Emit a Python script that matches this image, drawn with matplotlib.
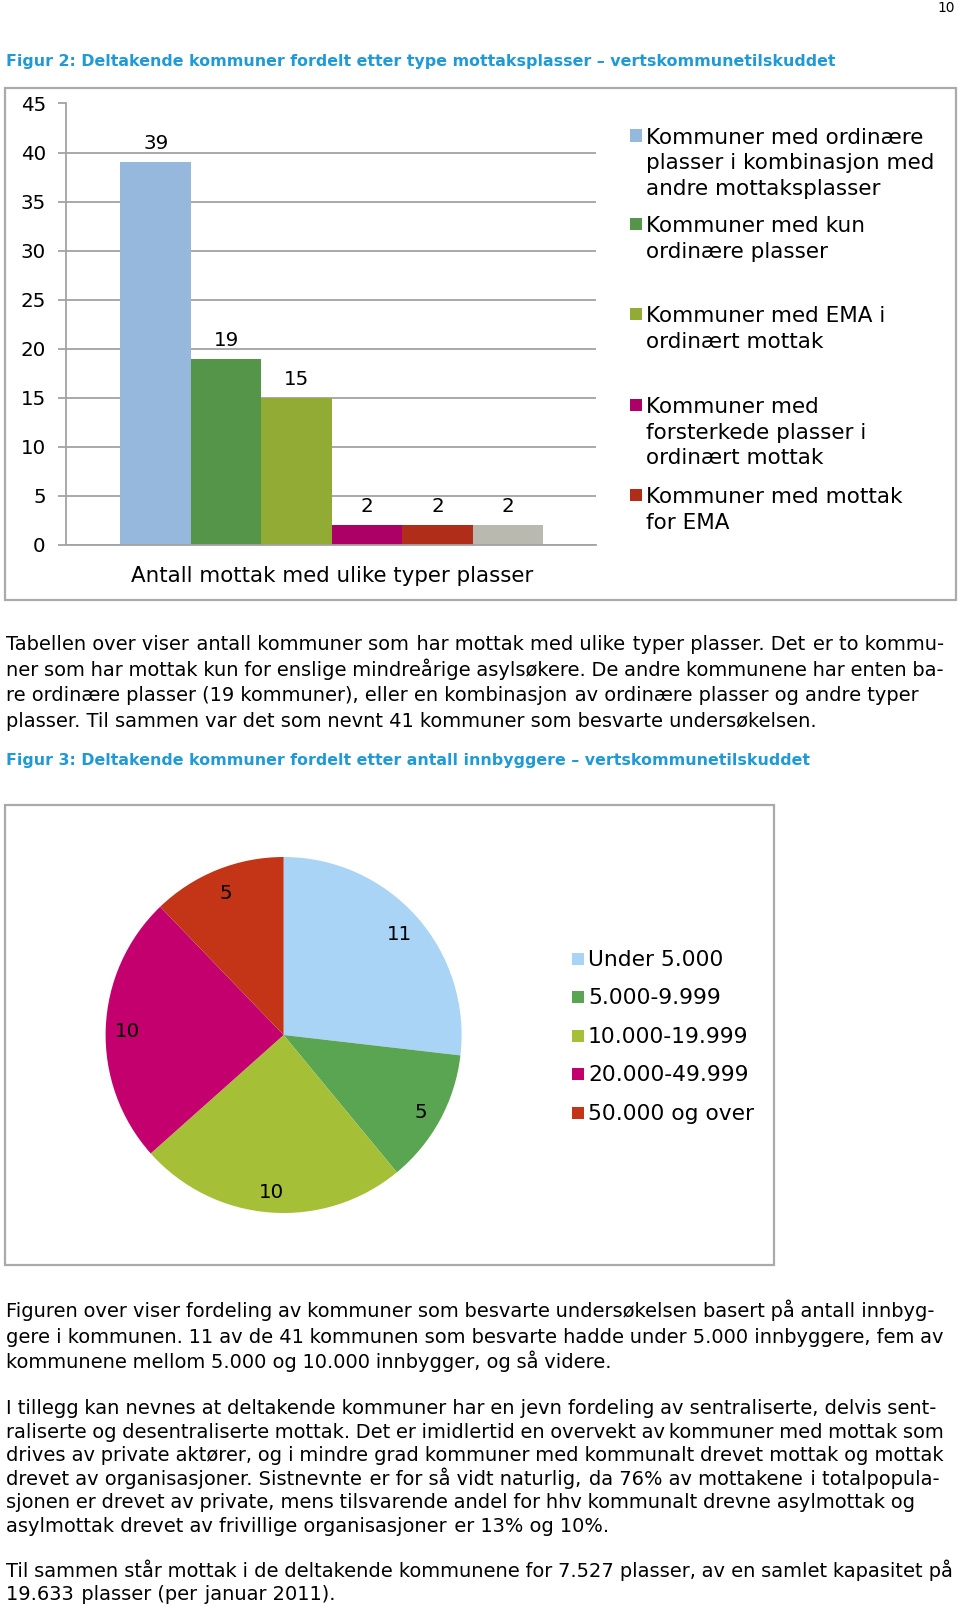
import matplotlib
matplotlib.use("Agg")
import matplotlib.pyplot as plt
import matplotlib.patches as mpatches
from matplotlib import font_manager
from matplotlib.ft2font import FT2Font

# ---------------- data ----------------
page_number = "10"
title_fig2 = "Figur 2: Deltakende kommuner fordelt etter type mottaksplasser \u2013 vertskommunetilskuddet"
title_fig3 = "Figur 3: Deltakende kommuner fordelt etter antall innbyggere \u2013 vertskommunetilskuddet"

bar_category = "Antall mottak med ulike typer plasser"
bar_series = [
    "Kommuner med ordinære\nplasser i kombinasjon med\nandre mottaksplasser",
    "Kommuner med kun\nordinære plasser",
    "Kommuner med EMA i\nordinært mottak",
    "Kommuner med\nforsterkede plasser i\nordinært mottak",
    "Kommuner med mottak\nfor EMA",
    "",
]
bar_values = [39, 19, 15, 2, 2, 2]
bar_colors = ["#95b8dc", "#55954a", "#91ab35", "#ad0066", "#b02d19", "#b9b9b0"]
bar_yticks = [0, 5, 10, 15, 20, 25, 30, 35, 40, 45]

pie_labels = ["Under 5.000", "5.000-9.999", "10.000-19.999", "20.000-49.999", "50.000 og over"]
pie_values = [11, 5, 10, 10, 5]
pie_colors = ["#a9d4f5", "#5aa552", "#a5bf37", "#c4006f", "#c43517"]

para1 = [
    "Tabellen over viser antall kommuner som har mottak med ulike typer plasser. Det er to kommu-",
    "ner som har mottak kun for enslige mindreårige asylsøkere. De andre kommunene har enten ba-",
    "re ordinære plasser (19 kommuner), eller en kombinasjon av ordinære plasser og andre typer",
    "plasser. Til sammen var det som nevnt 41 kommuner som besvarte undersøkelsen.",
]
para2 = [
    "Figuren over viser fordeling av kommuner som besvarte undersøkelsen basert på antall innbyg-",
    "gere i kommunen. 11 av de 41 kommunen som besvarte hadde under 5.000 innbyggere, fem av",
    "kommunene mellom 5.000 og 10.000 innbygger, og så videre.",
]
para3 = [
    "I tillegg kan nevnes at deltakende kommuner har en jevn fordeling av sentraliserte, delvis sent-",
    "raliserte og desentraliserte mottak. Det er imidlertid en overvekt av kommuner med mottak som",
    "drives av private aktører, og i mindre grad kommuner med kommunalt drevet mottak og mottak",
    "drevet av organisasjoner. Sistnevnte er for så vidt naturlig, da 76% av mottakene i totalpopula-",
    "sjonen er drevet av private, mens tilsvarende andel for hhv kommunalt drevne asylmottak og",
    "asylmottak drevet av frivillige organisasjoner er 13% og 10%.",
]
para4 = [
    "Til sammen står mottak i de deltakende kommunene for 7.527 plasser, av en samlet kapasitet på",
    "19.633 plasser (per januar 2011).",
]

# ---------------- layout (pixels) ----------------
W, H = 960, 1607
fig = plt.figure(figsize=(W / 100, H / 100), dpi=100)
fig.patch.set_facecolor("white")
renderer = fig.canvas.get_renderer()
TITLE_COLOR = "#1f9ad6"
GRID = "#a3a3a3"
FRAME = "#aaaaaa"
NUM_SIZE = 14.3


def fx(x):
    return x / W


def fy(y):
    return 1 - y / H


def measure(s, size, weight="normal"):
    t = fig.text(0, 0, s, fontsize=size, weight=weight)
    w = t.get_window_extent(renderer).width
    t.remove()
    return w


def fit(s, target, weight="normal"):
    return 10 * target / measure(s, 10, weight)


def frame(x0, y0, x1, y1):
    fig.add_artist(mpatches.Rectangle((fx(x0), fy(y1)), (x1 - x0) / W, (y1 - y0) / H,
                                      transform=fig.transFigure, fill=False,
                                      edgecolor=FRAME, linewidth=1.6))


def square(x, y_top, size, color):
    fig.add_artist(mpatches.Rectangle((fx(x), fy(y_top + size)), size / W, size / H,
                                      transform=fig.transFigure, facecolor=color,
                                      edgecolor="none"))


# page number
fig.text(fx(955), fy(12), page_number, fontsize=9.9, ha="right", va="baseline")

# titles
tsize = fit(title_fig2, 830, "bold")
fig.text(fx(6), fy(66), title_fig2, fontsize=tsize, weight="bold", color=TITLE_COLOR, va="baseline")
fig.text(fx(6), fy(765), title_fig3, fontsize=tsize, weight="bold", color=TITLE_COLOR, va="baseline")

# ---------------- bar chart ----------------
frame(5, 88, 956, 600)
ax_l, ax_r, ax_t, ax_b = 66, 596, 103.5, 545
ax = fig.add_axes([fx(ax_l), fy(ax_b), (ax_r - ax_l) / W, (ax_b - ax_t) / H])
n = len(bar_values)
offsets = [i - (n - 1) / 2 for i in range(n)]
for off, v, c, lab in zip(offsets, bar_values, bar_colors, bar_series):
    cont = ax.bar(off, v, width=1.0, color=c, label=lab, zorder=2)
    ax.bar_label(cont, padding=6.5, fontsize=NUM_SIZE, color="black")
ax.set_xlim(-3.773, 3.746)
ax.set_ylim(0, 45)
ax.set_yticks(bar_yticks)
ax.set_xticks([0])
lab_size = fit(bar_category, 403)
ax.set_xticklabels([bar_category], fontsize=lab_size)
ax.tick_params(axis="x", length=0, pad=15)
ax.tick_params(axis="y", length=6, width=1.3, color=GRID, labelsize=NUM_SIZE, pad=8.5)
ax.yaxis.grid(True, color=GRID, linewidth=1.3)
ax.set_axisbelow(True)
for s in ["top", "right"]:
    ax.spines[s].set_visible(False)
for s in ["left", "bottom"]:
    ax.spines[s].set_color(GRID)
    ax.spines[s].set_linewidth(1.3)
ax.set_facecolor("none")

# bar legend (first five series)
leg_size = fit("Kommuner med ordinære", 276.6)
first_base = [143.5, 232, 322, 413, 503]
for lab, c, b0 in zip(bar_series[:5], bar_colors[:5], first_base):
    square(630, b0 - 14, 12, c)
    for k, line in enumerate(lab.split("\n")):
        fig.text(fx(646), fy(b0 + 25.7 * k), line, fontsize=leg_size, va="baseline")

# ---------------- body text ----------------
paras = [
    (para1, [650, 675.7, 701.4, 727], [943.6, 943.6, 919, 816.5]),
    (para2, [1317, 1342.7, 1368.4], [934.4, 943.6, 611.6]),
    (para3, [1414, 1437.6, 1461.2, 1484.8, 1508.4, 1532], [936.4, 943.6, 943.6, 939.5, 915, 609.6]),
    (para4, [1577, 1600], [952.8, 336]),
]
X0 = 6
nat = 0
tgt = 0
for lines, _, rights in paras:
    for line, r in zip(lines, rights):
        nat += measure(line, 10)
        tgt += r - X0
body = 10 * tgt / nat

# spacing characters available in the font, to justify whole lines in one text
ft = FT2Font(font_manager.findfont("DejaVu Sans"))
space_chars = [ch for ch in [" ", "\u2009", "\u200a"] if ft.get_char_index(ord(ch)) != 0]
base_w = measure("xx", body)
cands = {}
for a in range(0, 3):
    for b in range(0, 3):
        for c in range(0, 4):
            counts = [a, b, c][:len(space_chars)]
            if sum(counts) == 0:
                continue
            s = "".join(ch * k for ch, k in zip(space_chars, counts))
            if s in cands:
                continue
            cands[s] = measure("x" + s + "x", body) - base_w
cand_list = sorted((w, s) for s, w in cands.items())


def justify(text, target):
    words = text.split(" ")
    nG = len(words) - 1
    if nG == 0:
        return text
    g = (target - sum(measure(w, body) for w in words)) / nG
    best, best_err = text, abs(measure(text, body) - target)
    for _ in range(5):
        cum = 0.0
        parts = [words[0]]
        for k in range(1, nG + 1):
            w, s = min(cand_list,
                       key=lambda cw: abs(cum + cw[0] - k * g) + 0.6 * abs(cw[0] - g))
            cum += w
            parts.append(s)
            parts.append(words[k])
        line = "".join(parts)
        actual = measure(line, body)
        if abs(actual - target) < best_err:
            best, best_err = line, abs(actual - target)
        g += (target - actual) / nG
    return best


for lines, ys, rights in paras:
    for line, y, r in zip(lines, ys, rights):
        fig.text(fx(X0), fy(round(y)), justify(line, r - X0), fontsize=body,
                 va="baseline", ha="left")

# ---------------- pie chart ----------------
frame(5, 805, 773.5, 1264.5)
cx, cy, R = 283.6, 1035, 178
pax = fig.add_axes([fx(cx - R), fy(cy + R), 2 * R / W, 2 * R / H])
total = sum(pie_values)
wedges, texts, autotexts = pax.pie(
    pie_values, colors=pie_colors, startangle=90, counterclock=False,
    autopct=lambda p: f"{int(round(p * total / 100))}", pctdistance=0.875,
    textprops=dict(fontsize=NUM_SIZE, color="black"),
    wedgeprops=dict(linewidth=0))
for t in autotexts:
    x, y = t.get_position()
    t.set_position((x, y - 0.015))
pax.set_xlim(-1, 1)
pax.set_ylim(-1, 1)
pax.axis("off")

pleg_size = fit("10.000-19.999", 160)
for i, (lab, c) in enumerate(zip(pie_labels, pie_colors)):
    b = 966 + 38.4 * i
    square(571.7, b - 13, 12, c)
    fig.text(fx(588), fy(b), lab, fontsize=pleg_size, va="baseline")

fig.savefig("out.png", dpi=100, facecolor="white")
